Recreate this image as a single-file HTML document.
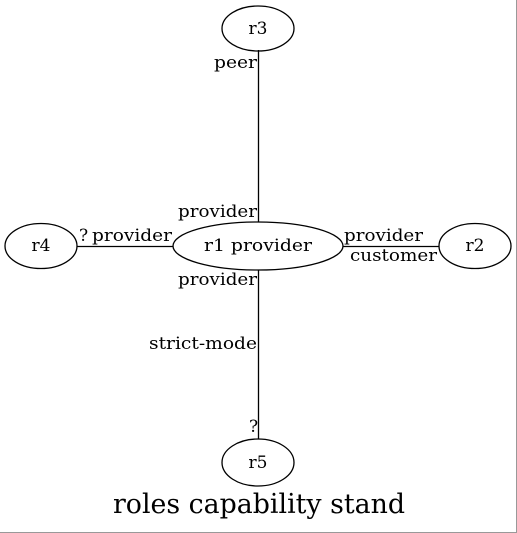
<!DOCTYPE html>
<html><head><style>
html,body{margin:0;padding:0;background:#fff;}
svg{display:block;}
text{font-family:"DejaVu Serif","Liberation Serif",serif;fill:#000;}
</style></head><body>
<svg width="517" height="533" viewBox="0 0 517 533" xmlns="http://www.w3.org/2000/svg">
<rect x="0" y="0" width="517" height="533" fill="#fff"/>
<line x1="516.5" y1="0" x2="516.5" y2="533" stroke="#999" stroke-width="1"/>
<line x1="0" y1="532.5" x2="517" y2="532.5" stroke="#999" stroke-width="1"/>
<g stroke="#000" stroke-width="1.3" fill="none">
<line x1="258.5" y1="50" x2="258.5" y2="222"/>
<line x1="258.5" y1="270" x2="258.5" y2="439"/>
<line x1="77" y1="246.5" x2="173" y2="246.5"/>
<line x1="343" y1="246.5" x2="439" y2="246.5"/>
<ellipse cx="258" cy="28.5" rx="36" ry="22.5"/>
<ellipse cx="258" cy="246" rx="85" ry="24"/>
<ellipse cx="41" cy="246" rx="36" ry="22.5"/>
<ellipse cx="475" cy="246" rx="36" ry="22.5"/>
<ellipse cx="258" cy="462.5" rx="36" ry="23.5"/>
</g>
<g font-size="17">
<text x="258" y="34" text-anchor="middle">r3</text>
<text x="204" y="251" textLength="108" lengthAdjust="spacingAndGlyphs">r1 provider</text>
<text x="41" y="251" text-anchor="middle">r4</text>
<text x="475" y="251" text-anchor="middle">r2</text>
<text x="258" y="468" text-anchor="middle">r5</text>
<text x="214" y="68" textLength="43" lengthAdjust="spacingAndGlyphs">peer</text>
<text x="178" y="217" textLength="79" lengthAdjust="spacingAndGlyphs">provider</text>
<text x="178" y="285" textLength="79" lengthAdjust="spacingAndGlyphs">provider</text>
<text x="149" y="349" textLength="108" lengthAdjust="spacingAndGlyphs">strict-mode</text>
<text x="249" y="432">?</text>
<text x="79" y="241">?</text>
<text x="92" y="241" textLength="80" lengthAdjust="spacingAndGlyphs">provider</text>
<text x="344" y="241" textLength="79" lengthAdjust="spacingAndGlyphs">provider</text>
<text x="350" y="261" textLength="87" lengthAdjust="spacingAndGlyphs">customer</text>
</g>
<text x="113" y="513" font-size="27" textLength="292" lengthAdjust="spacingAndGlyphs">roles capability stand</text>
</svg>
</body></html>
